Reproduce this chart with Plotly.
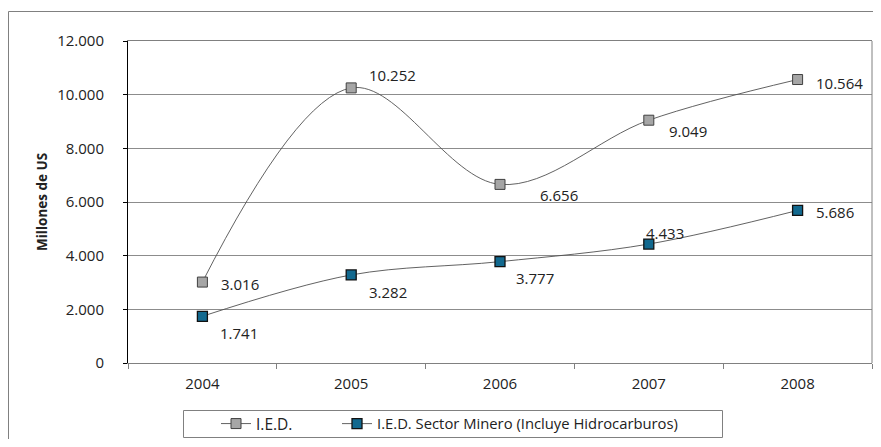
import plotly.graph_objects as go

years = ["2004", "2005", "2006", "2007", "2008"]
ied = [3016, 10252, 6656, 9049, 10564]
minero = [1741, 3282, 3777, 4433, 5686]
ied_name = "I.E.D."
minero_name = "I.E.D. Sector Minero (Incluye Hidrocarburos)"

# label offsets (style only): (dx of left edge, dy of centre) in px from each marker
ied_off = [(17, 2), (16, -13), (38, 11), (18, 11), (16, 3)]
min_off = [(16, 17), (16, 17), (14, 16), (-5, -11), (16, 2)]

# page has an 8px body margin; figure coordinates below are page - 8
W, H = 865, 431
L, R, T, B = 120, 1, 33, 76
pw, ph = W - L - R, H - T - B

def px(x):
    return (x - L) / pw

def py(y):
    return (H - B - y) / ph

font = "'Open Sans', Lato, sans-serif"

def fmt(v):
    return f"{v:,}".replace(",", ".")

fig = go.Figure()
fig.add_trace(go.Scatter(
    x=years, y=ied, name=ied_name, mode="lines+markers", legend="legend",
    line=dict(color="#505050", width=0.9, shape="spline", smoothing=1.0),
    marker=dict(symbol="square", size=10, color="#a6a6a6", line=dict(color="#404040", width=1)),
))
fig.add_trace(go.Scatter(
    x=years, y=minero, name=minero_name, mode="lines+markers", legend="legend2",
    line=dict(color="#505050", width=0.9, shape="spline", smoothing=1.0),
    marker=dict(symbol="square", size=10, color="#12698f", line=dict(color="#111", width=1.3)),
))

annotations = []
for vals, offs in ((ied, ied_off), (minero, min_off)):
    for i, (v, (dx, dy)) in enumerate(zip(vals, offs)):
        annotations.append(dict(
            x=i, y=v, xref="x", yref="y", text=fmt(v), showarrow=False,
            xanchor="left", yanchor="middle", xshift=dx, yshift=-dy,
            font=dict(size=15, color="#222", family=font)))

annotations.append(dict(text="<b>Millones de US</b>", xref="paper", yref="paper", x=px(34), y=0.5,
                        textangle=-90, showarrow=False,
                        font=dict(size=13.5, family=font, color="#222"),
                        xanchor="center", yanchor="middle"))

leg_common = dict(orientation="h", xref="container", yref="container", xanchor="left",
                  y=1 - 416 / H, yanchor="middle", borderwidth=0, bgcolor="rgba(0,0,0,0)")

fig.update_layout(
    width=W, height=H,
    margin=dict(l=L, r=R, t=T, b=B, autoexpand=False),
    paper_bgcolor="white", plot_bgcolor="white",
    separators=",.",
    font=dict(family=font, color="#222", size=12),
    showlegend=True,
    legend=dict(x=208 / W, font=dict(size=15.5, family=font, color="#222"), **leg_common),
    legend2=dict(x=329 / W, font=dict(size=14.8, family=font, color="#222"), **leg_common),
    xaxis=dict(type="category", range=[-0.5, 4.5], showgrid=False, showline=True,
               linecolor="#808080", linewidth=1,
               mirror=True, ticks="outside", ticklen=5, tickcolor="#808080", tickson="boundaries",
               tickfont=dict(size=15, family=font, color="#222"), ticklabelstandoff=7, automargin=False),
    yaxis=dict(range=[0, 12000], dtick=2000, tickformat=",d", showgrid=True, gridcolor="#8c8c8c",
               gridwidth=1, showline=True, linecolor="#000", linewidth=1, ticks="outside",
               ticklen=4, tickcolor="#000", tickfont=dict(size=15, family=font, color="#222"),
               ticklabelstandoff=16, zeroline=False, automargin=False),
    shapes=[
        dict(type="rect", xref="paper", yref="paper",
             x0=px(0.5), x1=px(900), y0=py(460), y1=py(3.5),
             line=dict(color="#808080", width=1), fillcolor="rgba(0,0,0,0)", layer="below"),
        dict(type="line", xref="paper", yref="paper", x0=1, x1=1, y0=0, y1=1,
             line=dict(color="#808080", width=1)),
        dict(type="rect", xref="paper", yref="paper",
             x0=px(175.5), x1=px(714.5), y0=py(429.5), y1=py(402.5),
             line=dict(color="#808080", width=1), fillcolor="rgba(0,0,0,0)"),
    ],
    annotations=annotations,
)

fig.write_html("out.html")
